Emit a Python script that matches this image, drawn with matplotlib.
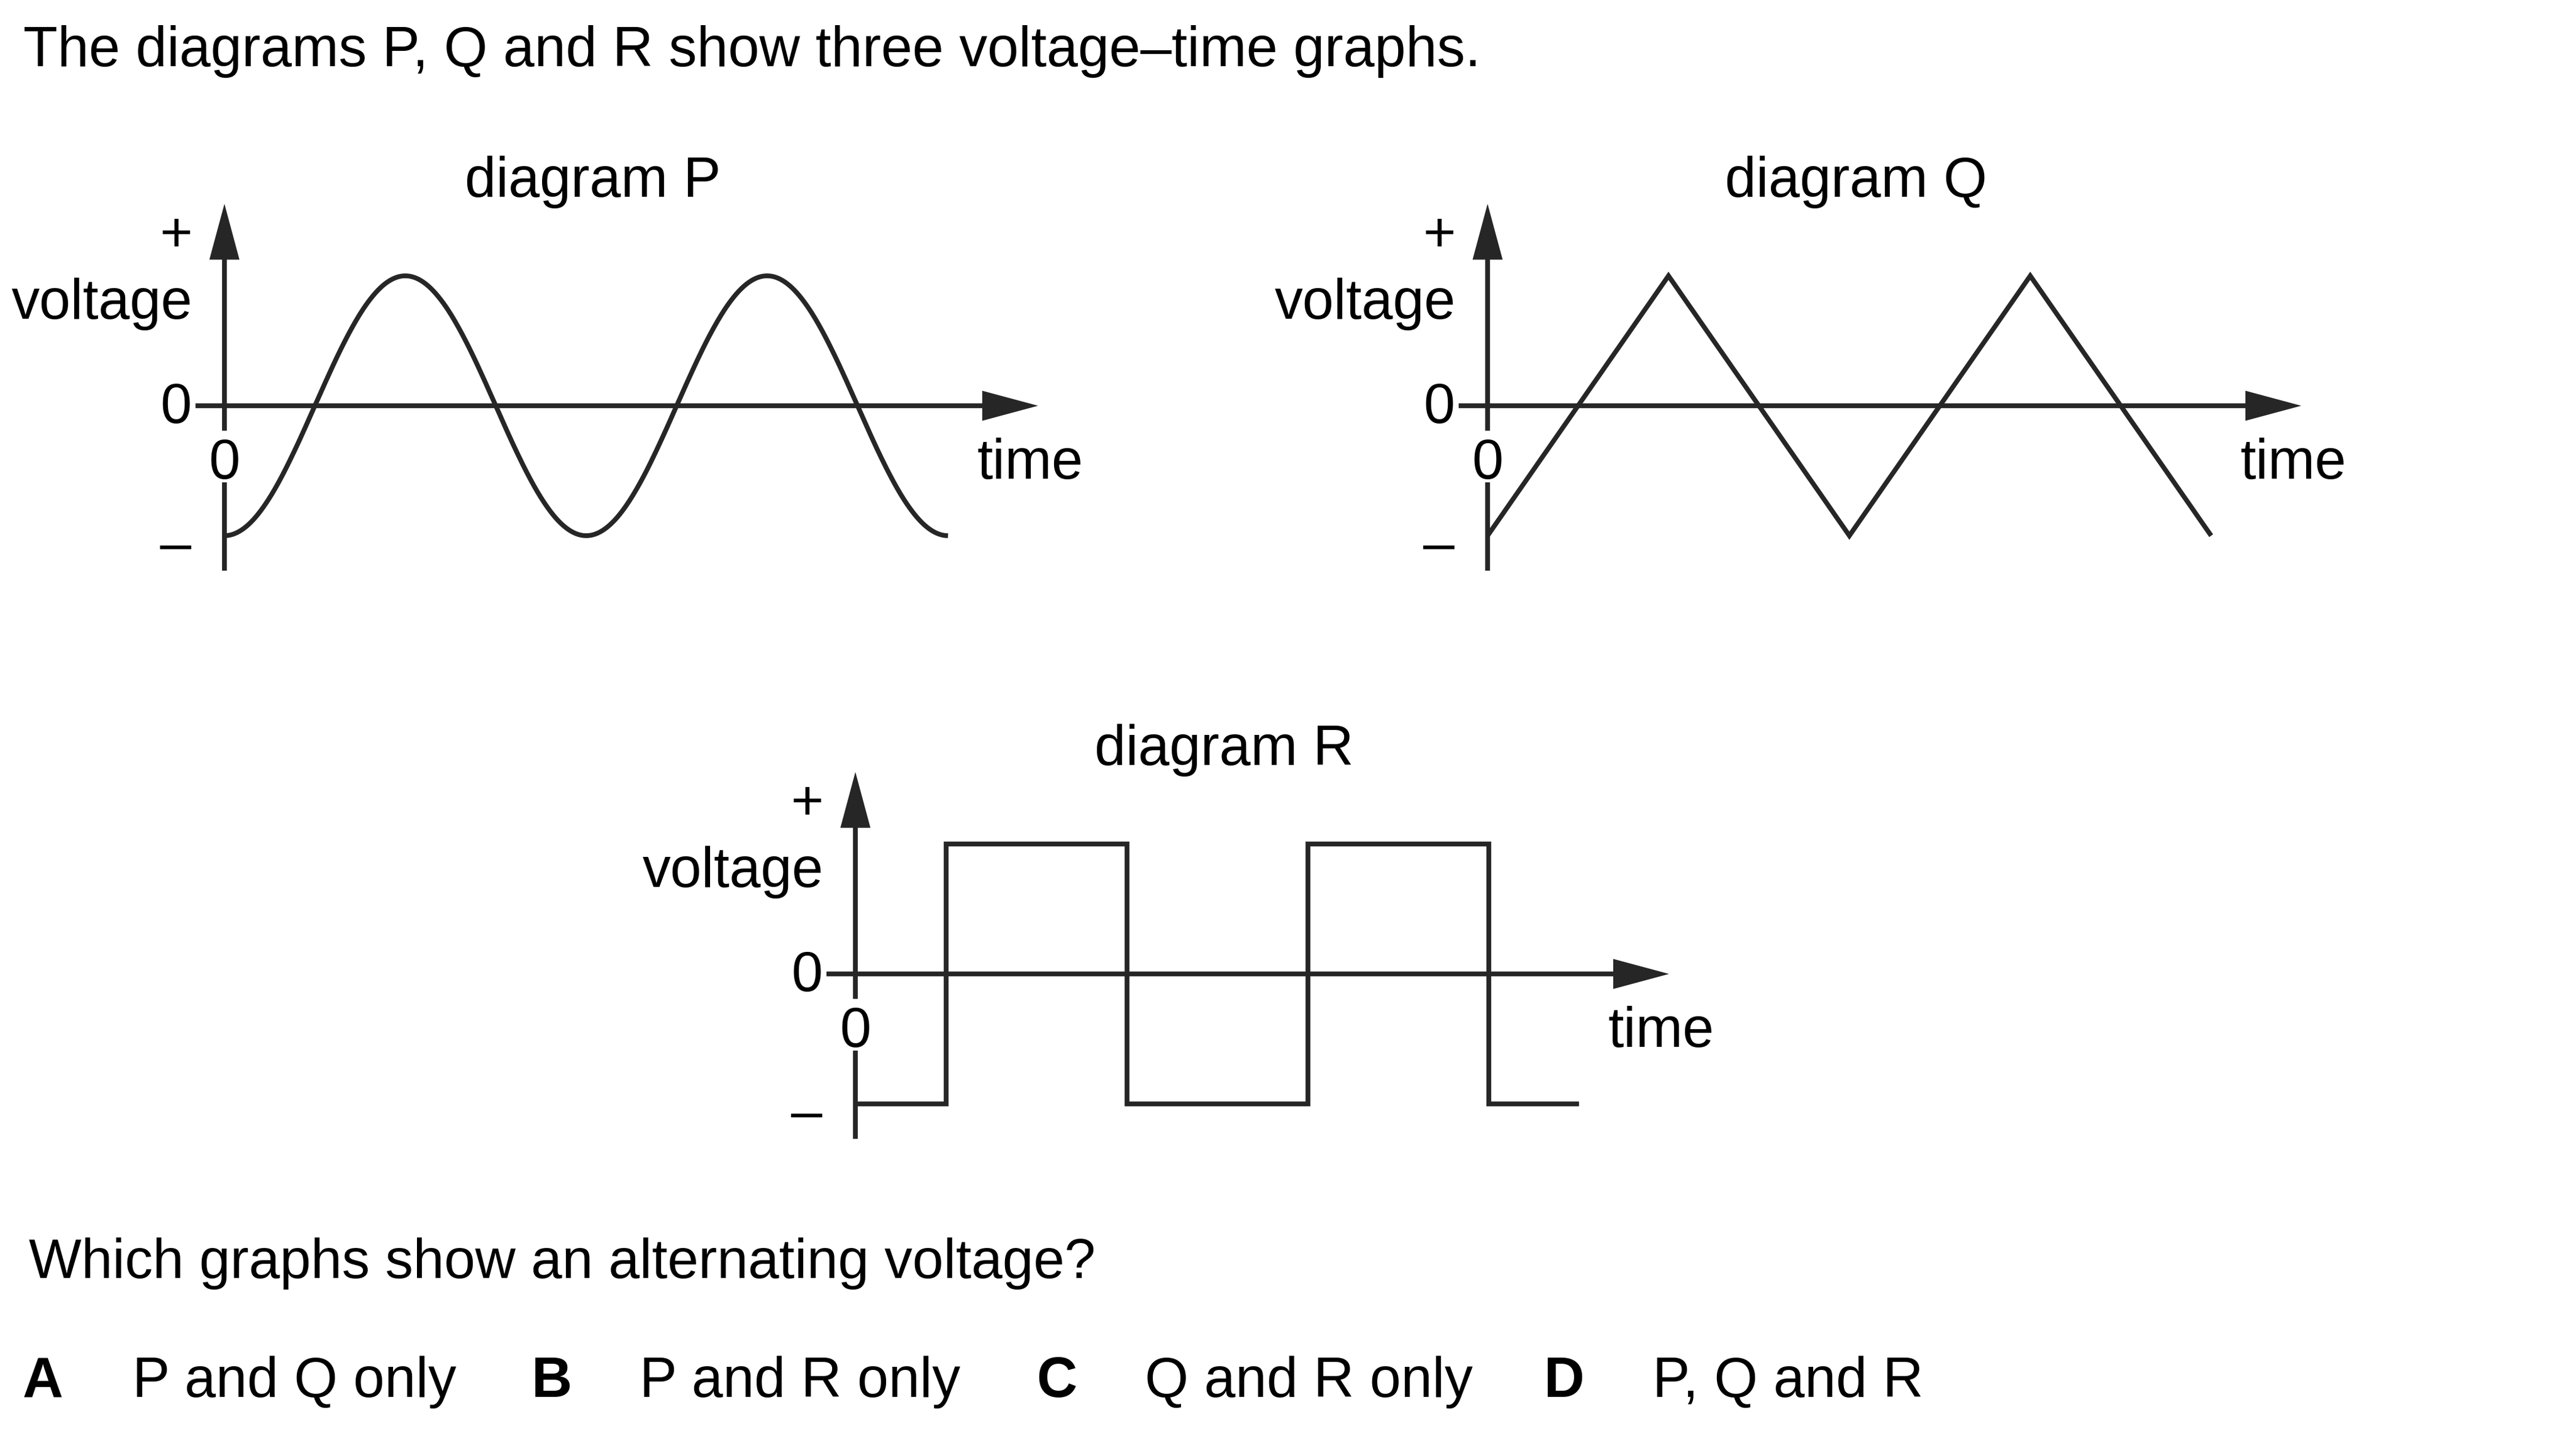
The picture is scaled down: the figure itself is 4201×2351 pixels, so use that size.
import numpy as np
import matplotlib
matplotlib.use("Agg")
import matplotlib.pyplot as plt

plt.rcParams['font.family'] = ['Liberation Sans', 'DejaVu Sans']

# ---------------- data ----------------
title_text = "The diagrams P, Q and R show three voltage\u2013time graphs."
question_text = "Which graphs show an alternating voltage?"
answer_letters = ["A", "B", "C", "D"]
answer_texts = ["P and Q only", "P and R only", "Q and R only", "P, Q and R"]
diagram_names = ["diagram P", "diagram Q", "diagram R"]

# diagram P : sinusoid, 2 cycles, starting at a minimum
p_cycles = 2
p_amplitude = 1.0
# diagram Q : triangle wave vertices (time in periods, voltage in amplitude units)
q_times = [0.0, 0.5, 1.0, 1.5, 2.0]
q_volts = [-1.0, 1.0, -1.0, 1.0, -1.0]
# diagram R : square wave (step, post)
r_times = [0.0, 0.25, 0.75, 1.25, 1.75, 2.0]
r_volts = [-1.0, 1.0, -1.0, 1.0, -1.0, -1.0]

# ---------------- layout ----------------
W, H = 4201, 2351
DPI = 100
FS = 66
LC = '#262626'
LW = 5.6
PERIOD_PX = 590
AMP_PX = 212
XL = (-0.3, 2.5)
YL = (-1.5, 1.8)

fig = plt.figure(figsize=(W / DPI, H / DPI), dpi=DPI)
fig.patch.set_facecolor('white')

bg = fig.add_axes([0, 0, 1, 1])
bg.set_xlim(0, W)
bg.set_ylim(H, 0)
bg.axis('off')

bg.text(38, 108, title_text, fontsize=FS, ha='left', va='baseline', color='black')
bg.text(47, 2085, question_text, fontsize=65.5, ha='left', va='baseline', color='black')
letter_x = [37, 867, 1690, 2518]
text_x = [216, 1043, 1867, 2695]
for lx, tx, L, T in zip(letter_x, text_x, answer_letters, answer_texts):
    bg.text(lx, 2279, L, fontsize=FS, fontweight='bold', ha='left', va='baseline', color='black')
    bg.text(tx, 2279, T, fontsize=FS, ha='left', va='baseline', color='black')


def diagram_axes(x0, y0):
    left = (x0 + XL[0] * PERIOD_PX) / W
    width = (XL[1] - XL[0]) * PERIOD_PX / W
    bottom = 1 - (y0 - YL[0] * AMP_PX) / H
    height = (YL[1] - YL[0]) * AMP_PX / H
    ax = fig.add_axes([left, bottom, width, height])
    ax.set_xlim(*XL)
    ax.set_ylim(*YL)
    ax.axis('off')
    return ax


def arrow(ax, start, tip):
    ax.annotate('', xy=tip, xytext=start,
                arrowprops=dict(arrowstyle='-|>,head_length=52,head_width=14',
                                mutation_scale=1, color=LC, lw=LW,
                                shrinkA=0, shrinkB=0, joinstyle='miter',
                                capstyle='butt'),
                annotation_clip=False)


def decorate(ax, name):
    # axes
    arrow(ax, (-0.080, 0), (2.249, 0))
    arrow(ax, (0, -0.192), (0, 1.554))
    ax.plot([0, 0], [-1.268, -0.59], color=LC, lw=LW, solid_capstyle='butt')
    # labels
    ax.text(-0.134, 1.19, "+", fontsize=FS, ha='center', va='baseline')
    ax.text(-0.088, 0.671, "voltage", fontsize=FS, ha='right', va='baseline')
    ax.text(-0.134, -0.131, "0", fontsize=FS, ha='center', va='baseline')
    ax.text(0.0, -0.559, "0", fontsize=FS, ha='center', va='baseline')
    ax.text(-0.134, -1.20, "\u2013", fontsize=FS, ha='center', va='baseline')
    ax.text(2.081, -0.559, "time", fontsize=FS, ha='left', va='baseline')
    ax.text(1.019, 1.61, name, fontsize=FS, ha='center', va='baseline')


# diagram P
axP = diagram_axes(366, 662)
decorate(axP, diagram_names[0])
tP = np.linspace(0, p_cycles, 600)
axP.plot(tP, -p_amplitude * np.cos(2 * np.pi * tP), color=LC, lw=LW,
         solid_capstyle='butt', zorder=3)

# diagram Q
axQ = diagram_axes(2426, 662)
decorate(axQ, diagram_names[1])
axQ.plot(q_times, q_volts, color=LC, lw=LW, solid_joinstyle='miter',
         solid_capstyle='butt', zorder=3)

# diagram R
axR = diagram_axes(1395, 1589)
decorate(axR, diagram_names[2])
axR.step(r_times, r_volts, where='post', color=LC, lw=LW,
         solid_joinstyle='miter', solid_capstyle='butt', zorder=3)

fig.savefig('out.png', dpi=DPI, facecolor='white')
